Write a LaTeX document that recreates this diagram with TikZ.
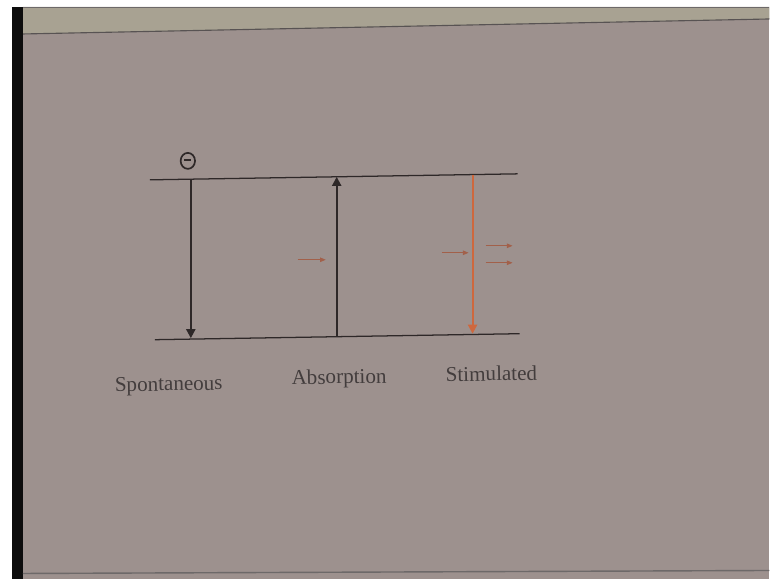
\documentclass[tikz,border=0pt]{standalone}
\usepackage{fontspec}
\setmainfont{Liberation Serif}
\usetikzlibrary{positioning,arrows.meta,shapes.geometric}
\definecolor{slidebg}{RGB}{157,145,142}
\definecolor{slideband}{RGB}{168,162,146}
\definecolor{inkdark}{RGB}{46,40,40}
\definecolor{torange}{RGB}{206,104,62}
\definecolor{tbrown}{RGB}{162,96,74}

\begin{document}
\begin{tikzpicture}[
    x=0.025cm, y=-0.025cm,
    >={Triangle[length=6.5pt,width=6.5pt]},
    level/.style={draw=inkdark, line width=0.9pt},
    trans/.style={->, draw=inkdark, line width=1.4pt},
    photon/.style={-{Triangle[length=4pt,width=3.2pt]}, draw=tbrown, line width=0.6pt},
    lbl/.style={font=\fontsize{15}{18}\selectfont, text=inkdark!90, inner sep=0pt, anchor=base, rotate=1},
    electron/.style={ellipse, draw=inkdark, line width=1.2pt, minimum width=0.36cm, minimum height=0.4cm,
                     inner sep=0pt, text=inkdark},
]

% ---------- slide and frame ----------
\fill[white] (0,0) rectangle (770,580);
\fill[slidebg] (12,7) rectangle (770,580);
\fill[slideband] (23,7) -- (770,7) -- (770,19) -- (23,34) -- cycle;
\draw[inkdark!80, line width=0.8pt] (23,34) -- (770,19);
\draw[inkdark!70, line width=1pt] (12,7.5) -- (770,7.5);
\fill[black!95] (12,7) rectangle (23,580);
\draw[inkdark!70, line width=1pt] (23,574) -- (770,571);

% ---------- energy levels ----------
\coordinate (upL) at (150,180);
\coordinate (upR) at (518,174);
\coordinate (loL) at (155,340);
\coordinate (loR) at (520,334);
\draw[level] (upL) -- (upR);
\draw[level] (loL) -- (loR);

% ---------- transitions ----------
\coordinate (sp-top) at (191,179.5);
\coordinate (sp-bot) at (191,338.5);
\coordinate (ab-bot) at (337,337);
\coordinate (ab-top) at (337,177);
\coordinate (st-top) at (473,175);
\coordinate (st-bot) at (473,334);

\node[electron] (elec) at (188,161) {\rule[0.25ex]{0.5em}{1pt}};

\draw[trans] (sp-top) -- (sp-bot);
\draw[trans] (ab-bot) -- (ab-top);
\draw[trans, draw=torange] (st-top) -- (st-bot);

% incoming and outgoing photons
\coordinate (ph1-a) at (298,260);
\coordinate (ph1-b) at (326,260);
\coordinate (ph2-a) at (442,253);
\coordinate (ph2-b) at (469,253);
\coordinate (ph3-a) at (486,246);
\coordinate (ph3-b) at (513,246);
\coordinate (ph4-a) at (486,263);
\coordinate (ph4-b) at (513,263);
\draw[photon] (ph1-a) -- (ph1-b);
\draw[photon] (ph2-a) -- (ph2-b);
\draw[photon] (ph3-a) -- (ph3-b);
\draw[photon] (ph4-a) -- (ph4-b);

% ---------- labels ----------
\node[lbl] (spont) at (169,391) {Spontaneous};
\node[lbl] (absorp) at (339.5,384) {Absorption};
\node[lbl] (stim) at (492,381) {Stimulated};

\end{tikzpicture}
\end{document}
